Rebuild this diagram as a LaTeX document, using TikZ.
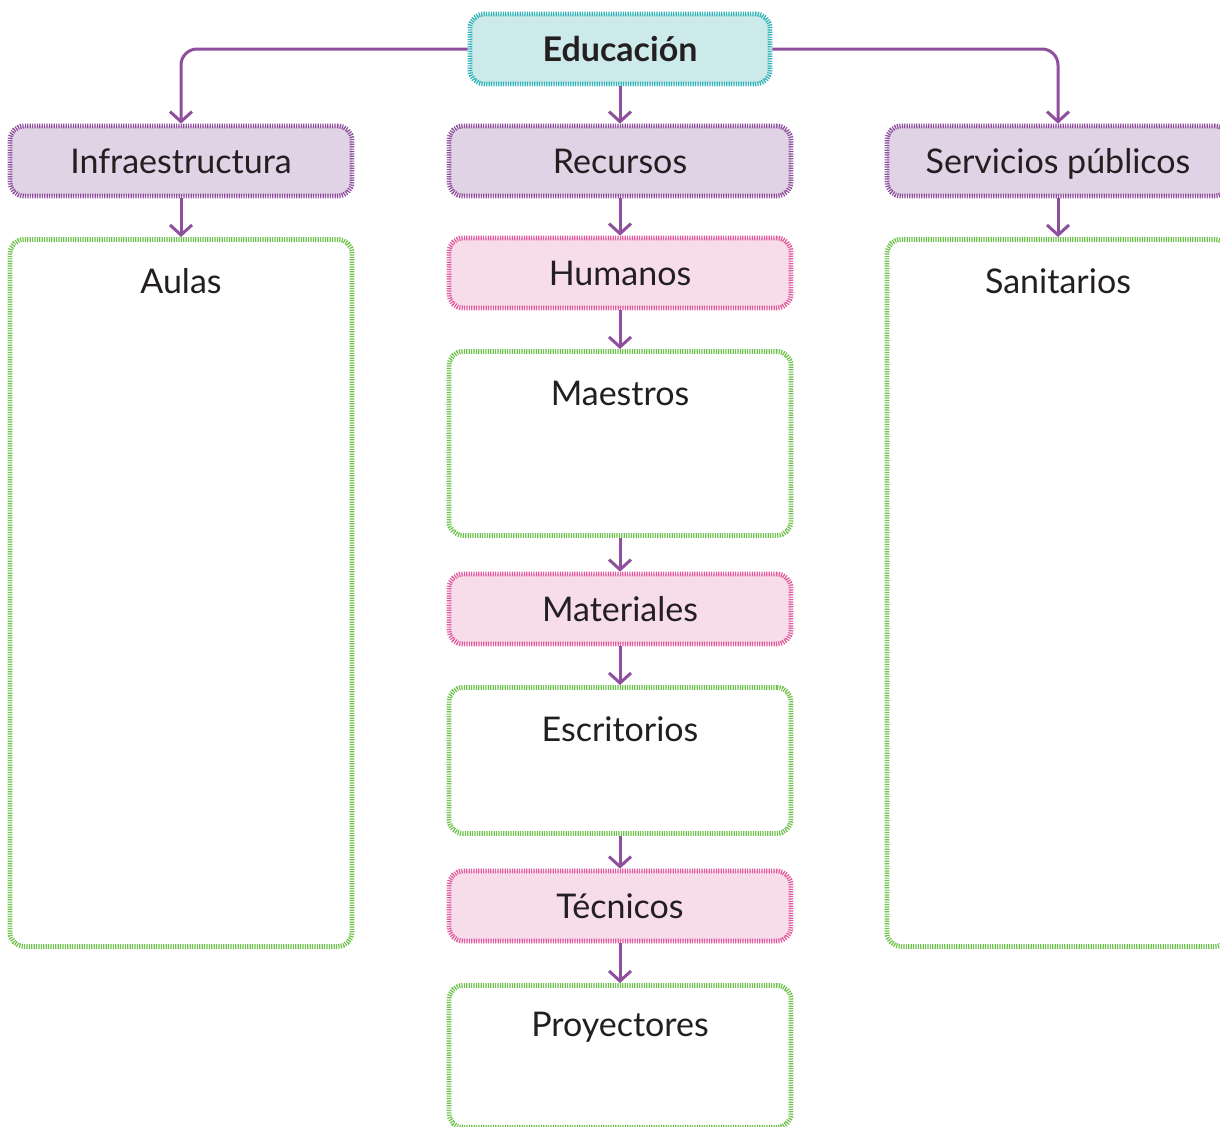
\documentclass[tikz,border=0pt]{standalone}
\usepackage{fontspec}
\setmainfont{Lato}
\usepackage{xcolor}
\usetikzlibrary{
    arrows.meta,
    positioning
}

\definecolor{linepurple}{HTML}{8E4F9C}
\definecolor{catfill}{HTML}{E1D3E6}
\definecolor{subfill}{HTML}{F7DDEA}
\definecolor{subline}{HTML}{E2599D}
\definecolor{topfill}{HTML}{CDEAEA}
\definecolor{topline}{HTML}{2DB3B8}
\definecolor{listgreen}{HTML}{6CC24A}
\definecolor{textdark}{HTML}{231F20}

\begin{document}
\begin{tikzpicture}[
    x=0.5pt, y=-0.5pt,
    font=\fontsize{17}{20}\selectfont,
    basebox/.style={
        rectangle,
        rounded corners=7pt,
        line width=2.4pt,
        dash pattern=on 0.6pt off 0.6pt,
        align=center,
        text=textdark,
        text height=13pt,
        text depth=0.5pt,
        minimum width=171pt,
        minimum height=35pt
    },
    topbox/.style={
        basebox,
        fill=topfill,
        draw=topline,
        minimum width=150pt,
        font=\fontsize{17}{20}\selectfont\bfseries
    },
    catbox/.style={
        basebox,
        fill=catfill,
        draw=linepurple
    },
    subbox/.style={
        basebox,
        fill=subfill,
        draw=subline
    },
    listbox/.style={
        basebox,
        fill=white,
        draw=listgreen,
        text height=,
        text depth=,
        anchor=north
    },
    listtext/.style={
        anchor=center,
        yshift=-22pt,
        text=textdark
    },
    arrow/.style={
        -{Straight Barb[length=5pt,width=11pt]},
        line width=1.5pt,
        draw=linepurple
    }
]
\useasboundingbox (0,0) rectangle (1220,1126);

% =========================================================
% Top level
% =========================================================
\node[topbox] (educ) at (620,49) {Educación};

% =========================================================
% Categories
% =========================================================
\node[catbox] (infra) at (181,161) {Infraestructura};
\node[catbox] (recursos) at (620,161) {Recursos};
\node[catbox] (servicios) at (1058,161) {Servicios públicos};

% =========================================================
% Resource types
% =========================================================
\node[subbox] (humanos) at (620,273) {Humanos};
\node[subbox] (materiales) at (620,609) {Materiales};
\node[subbox] (tecnicos) at (620,906) {Técnicos};

% =========================================================
% Lists
% =========================================================
\node[listbox, minimum height=353.5pt,
      label={[listtext]north:Aulas}] (aulas) at (181,237) {};
\node[listbox, minimum height=353.5pt,
      label={[listtext]north:Sanitarios}] (sanitarios) at (1058,237) {};
\node[listbox, minimum height=92pt,
      label={[listtext]north:Maestros}] (maestros) at (620,349) {};
\node[listbox, minimum height=73pt,
      label={[listtext]north:Escritorios}] (escritorios) at (620,685) {};
\node[listbox, minimum height=71pt,
      label={[listtext]north:Proyectores}] (proyectores) at (620,983) {};

% =========================================================
% Arrows
% =========================================================
\draw[arrow, rounded corners=8pt] (educ.west) -| (infra.north);
\draw[arrow, rounded corners=8pt] (educ.east) -| (servicios.north);
\draw[arrow] (educ) -- (recursos);

\draw[arrow] (infra) -- (aulas);
\draw[arrow] (servicios) -- (sanitarios);

\draw[arrow] (recursos) -- (humanos);
\draw[arrow] (humanos) -- (maestros);
\draw[arrow] (maestros) -- (materiales);
\draw[arrow] (materiales) -- (escritorios);
\draw[arrow] (escritorios) -- (tecnicos);
\draw[arrow] (tecnicos) -- (proyectores);

\end{tikzpicture}
\end{document}
